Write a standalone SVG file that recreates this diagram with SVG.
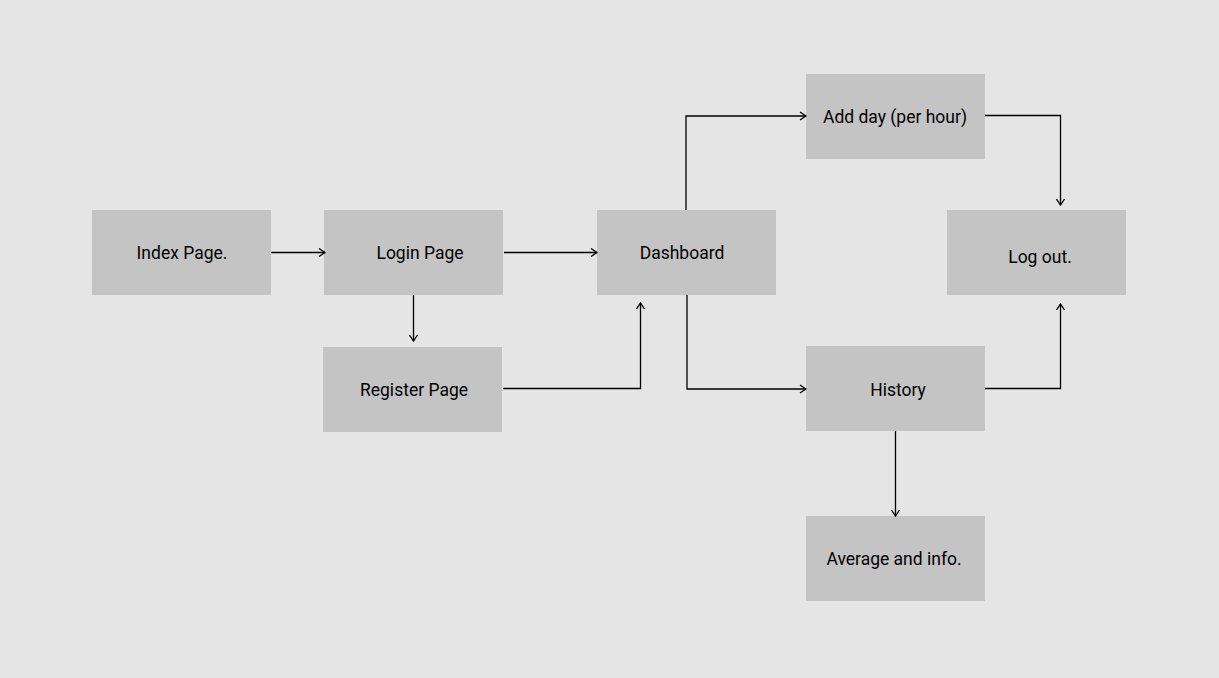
<svg xmlns="http://www.w3.org/2000/svg" width="1219" height="678" viewBox="0 0 1219 678">
<style>
.box{fill:#c4c4c4}
.lbl{font-family:Roboto,"Liberation Sans",sans-serif;font-size:17.5px;fill:#000;text-anchor:middle;dominant-baseline:central}
.con{fill:none;stroke:#000;stroke-width:1.3}
</style>
<defs>
<marker id="arr" viewBox="0 0 10 10" refX="9" refY="5" markerWidth="10" markerHeight="10" markerUnits="userSpaceOnUse" orient="auto">
<path d="M3,1 L9,5 L3,9" fill="none" stroke="#000" stroke-width="1.3"/>
</marker>
</defs>
<rect width="1219" height="678" fill="#e5e5e5"/>
<g id="index"><rect class="box" x="92" y="210" width="179" height="85"/><text class="lbl" x="182" y="253">Index Page.</text></g>
<g id="login"><rect class="box" x="324" y="210" width="179" height="85"/><text class="lbl" x="420" y="253">Login Page</text></g>
<g id="dashboard"><rect class="box" x="597" y="210" width="179" height="85"/><text class="lbl" x="682" y="253">Dashboard</text></g>
<g id="addday"><rect class="box" x="806" y="74" width="179" height="85"/><text class="lbl" x="895" y="117">Add day (per hour)</text></g>
<g id="logout"><rect class="box" x="947" y="210" width="179" height="85"/><text class="lbl" x="1040" y="257">Log out.</text></g>
<g id="register"><rect class="box" x="323" y="347" width="179" height="85"/><text class="lbl" x="414" y="390">Register Page</text></g>
<g id="history"><rect class="box" x="806" y="346" width="179" height="85"/><text class="lbl" x="898" y="390">History</text></g>
<g id="average"><rect class="box" x="806" y="516" width="179" height="85"/><text class="lbl" x="894" y="559">Average and info.</text></g>
<g id="connectors">
<path class="con" d="M271,252.5 H325" marker-end="url(#arr)"/>
<path class="con" d="M504,252.5 H597" marker-end="url(#arr)"/>
<path class="con" d="M413.5,295 V341" marker-end="url(#arr)"/>
<path class="con" d="M503,388.5 H640.5 V303" marker-end="url(#arr)"/>
<path class="con" d="M686,210 V116 H806" marker-end="url(#arr)"/>
<path class="con" d="M687,295 V389 H806" marker-end="url(#arr)"/>
<path class="con" d="M985,115.5 H1060.5 V205" marker-end="url(#arr)"/>
<path class="con" d="M985,388.5 H1060.5 V304" marker-end="url(#arr)"/>
<path class="con" d="M895.5,431 V516" marker-end="url(#arr)"/>
</g>
</svg>
